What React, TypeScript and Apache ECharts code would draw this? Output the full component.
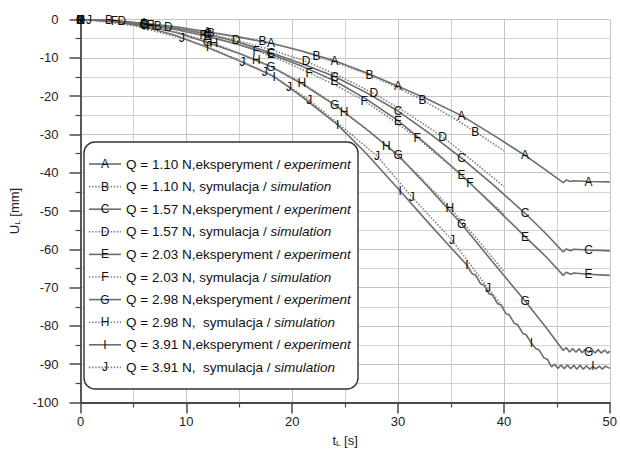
import React, { useEffect, useRef } from 'react';
import * as echarts from 'echarts';

const FONT = '"Liberation Sans", Arial, Helvetica, sans-serif';

// x: t_L [s], y: U_L [mm]
const xTicks = [0, 10, 20, 30, 40, 50];
const yTicks = [0, -10, -20, -30, -40, -50, -60, -70, -80, -90, -100];

const letters = ['A', 'B', 'C', 'D', 'E', 'F', 'G', 'H', 'I', 'J'];

const legendTexts = [
  'Q = 1.10 N,eksperyment / {i|experiment}',
  'Q = 1.10 N, symulacja / {i|simulation}',
  'Q = 1.57 N,eksperyment / {i|experiment}',
  'Q = 1.57 N, symulacja / {i|simulation}',
  'Q = 2.03 N,eksperyment / {i|experiment}',
  'Q = 2.03 N, symulacja / {i|simulation}',
  'Q = 2.98 N,eksperyment / {i|experiment}',
  'Q = 2.98 N,  symulacja / {i|simulation}',
  'Q = 3.91 N,eksperyment / {i|experiment}',
  'Q = 3.91 N,  symulacja / {i|simulation}',
];

const curveA = [[0,0],[3,-0.3],[6,-1.0],[9,-1.9],[12,-3.2],[15,-4.6],[18,-6.2],[21,-8.3],[24,-10.8],[27,-13.9],[30,-17.4],[33,-21.1],[36,-25.1],[39,-30.2],[42,-35.5],[44,-39.4],[45.6,-42.6],[45.9,-41.9],[46.3,-42.3],[46.6,-42.1],[48,-42.3],[50,-42.4]];
const markA = [0, 6, 12, 18, 24, 30, 36, 42, 48];

const curveB = [[0,0],[2.7,-0.25],[4.8,-0.8],[7.3,-1.7],[9.8,-2.5],[12.3,-3.5],[14.8,-4.5],[17.2,-5.6],[19.8,-7.4],[22.3,-9.5],[24.8,-11.9],[27.3,-14.5],[29.8,-17.6],[32.3,-21.0],[34.8,-25.0],[37.3,-29.3],[40,-34.3]];
const markB = [0, 2.7, 7.3, 12.3, 17.2, 22.3, 27.3, 32.3, 37.3];

const curveC = [[0,0],[3,-0.3],[6,-1.1],[9,-2.3],[12,-3.8],[15,-6.0],[18,-8.7],[21,-11.6],[24,-14.9],[27,-19.1],[30,-23.9],[33,-29.8],[36,-36.2],[39,-43.2],[42,-50.6],[44,-56.0],[45.6,-60.7],[45.9,-59.9],[46.3,-60.4],[46.6,-60.0],[48,-60.2],[50,-60.4]];
const markC = [0, 6, 12, 18, 24, 30, 36, 42, 48];

const curveD = [[0,0],[3.9,-0.5],[6,-1.2],[8.3,-2.0],[11.5,-3.5],[14.7,-5.4],[18,-7.9],[21.3,-10.9],[24.5,-14.8],[27.7,-19.3],[31,-24.7],[34.2,-30.6],[37,-36.8],[40,-43.6]];
const markD = [0, 3.9, 8.3, 14.7, 21.3, 27.7, 34.2];

const curveE = [[0,0],[3,-0.3],[6,-1.2],[9,-2.6],[12,-4.4],[15,-6.6],[18,-9.1],[21,-12.3],[24,-16.0],[27,-20.8],[30,-26.4],[33,-33.3],[36,-40.6],[39,-48.6],[42,-56.7],[44,-62.0],[45.6,-66.8],[45.9,-66.0],[46.3,-66.5],[46.6,-66.2],[48,-66.5],[50,-66.8]];
const markE = [0, 6, 12, 18, 24, 30, 36, 42, 48];

const curveF = [[0,0],[3.2,-0.4],[6.6,-1.5],[9.1,-2.6],[11.6,-4.1],[14.1,-5.9],[16.6,-8.1],[19.1,-10.8],[21.6,-13.9],[24.2,-17.3],[26.8,-21.2],[29.3,-25.9],[31.8,-30.9],[34.3,-36.7],[36.8,-42.8],[40,-50.8]];
const markF = [0, 3.2, 6.6, 11.6, 16.6, 21.6, 26.8, 31.8, 36.8];

const curveG = [[0,0],[3,-0.4],[6,-1.5],[9,-3.4],[12,-6.0],[15,-8.9],[18,-12.3],[21,-16.9],[24,-22.3],[27,-28.6],[30,-35.4],[33,-44.2],[36,-53.4],[39,-63.5],[42,-73.5],[44,-80.5],[45.6,-86.4],[45.9,-85.7],[46.2,-86.8],[46.5,-85.9],[46.8,-86.9],[47.1,-86.0],[47.4,-87.0],[47.7,-86.1],[48.0,-86.9],[48.3,-86.1],[48.6,-87.1],[48.9,-86.2],[49.2,-87.1],[49.5,-86.3],[49.8,-87.1],[50,-86.6]];
const markG = [0, 6, 12, 18, 24, 30, 36, 42, 48];

const curveH = [[0,0],[3.5,-0.6],[6.6,-1.8],[9.6,-3.6],[12.6,-6.2],[16.6,-10.6],[18.8,-13.4],[20.9,-16.5],[22.9,-20.1],[24.9,-24.1],[26.9,-28.4],[28.9,-32.9],[31.9,-40.6],[34.9,-49.2],[37.5,-57.4],[40,-65.8]];
const markH = [0, 6.6, 12.6, 16.6, 20.9, 24.9, 28.9, 34.9];

const curveI = [[0,0],[3,-0.5],[6,-1.8],[9,-4.2],[12,-7.3],[15,-10.8],[18.3,-14.9],[21,-20.3],[24.3,-27.5],[27,-35.0],[30.2,-44.8],[33,-53.5],[35,-59.6],[36.5,-64.1],[37.0,-66.4],[37.3,-66.7],[37.8,-69.0],[38.1,-69.3],[38.6,-71.6],[38.9,-71.9],[39.4,-74.2],[39.7,-74.5],[40.2,-76.8],[40.5,-77.1],[41.0,-79.4],[41.3,-79.7],[41.8,-82.0],[42.1,-82.3],[42.6,-84.5],[43.0,-85.9],[43.3,-86.2],[43.8,-88.4],[44.1,-88.7],[44.5,-90.7],[44.8,-90.0],[45.1,-91.1],[45.4,-90.2],[45.7,-91.2],[46.0,-90.2],[46.3,-91.2],[46.6,-90.3],[46.9,-91.3],[47.2,-90.3],[47.5,-91.3],[47.8,-90.4],[48.1,-91.3],[48.4,-90.6],[48.7,-91.2],[49.0,-90.5],[49.3,-91.3],[49.6,-90.5],[50,-91.1]];
const markI = [0, 6, 12, 18.3, 24.3, 30.2, 36.5, 42.6, 48.4];

const curveJ = [[0,0],[0.8,-0.1],[5,-1.6],[9.6,-4.9],[12.5,-7.7],[15.3,-11.0],[17.4,-13.6],[19.7,-17.5],[21.6,-21.0],[24.8,-28.2],[28.0,-35.6],[31.3,-46.3],[35.1,-57.6],[38.5,-70.2],[40,-75.3]];
const markJ = [0, 0.8, 9.6, 15.3, 17.4, 19.7, 21.6, 28.0, 31.3, 35.1, 38.5];

const curves = [curveA, curveB, curveC, curveD, curveE, curveF, curveG, curveH, curveI, curveJ];
const marks = [markA, markB, markC, markD, markE, markF, markG, markH, markI, markJ];

export default function App() {
  const ref = useRef<HTMLDivElement>(null);

  useEffect(() => {
    if (!ref.current) return;
    const chart = echarts.init(ref.current, null, { renderer: 'svg' });

    const isSim = (i: number) => i % 2 === 1;

    const lineSeries = curves.map((c, i) => ({
      type: 'line',
      data: c,
      symbol: 'none',
      showSymbol: false,
      silent: true,
      z: 3,
      lineStyle: {
        color: isSim(i) ? '#808080' : '#6c6c6c',
        width: 1.6,
        type: isSim(i) ? [1.5, 1.6] : 'solid',
      },
    }));

    const markSeries = curves.map((c, i) => ({
      type: 'scatter',
      data: c.filter((p) => marks[i].indexOf(p[0]) >= 0),
      symbol: 'rect',
      symbolSize: 0,
      silent: true,
      z: 4,
      itemStyle: { color: '#111111', opacity: 1 },
      label: {
        show: true,
        position: [0, 0],
        align: 'center',
        verticalAlign: 'middle',
        formatter: letters[i],
        color: '#111111',
        textBorderWidth: 0,
        textBorderColor: 'transparent',
        fontSize: 12,
        fontFamily: FONT,
      },
    }));

    const legendX = 84;
    const legendY = 142;
    const rowY0 = 164;
    const rowStep = 22.6;
    const legendGraphics: any[] = [
      {
        type: 'rect',
        shape: { x: legendX, y: legendY, width: 274, height: 247, r: 11 },
        style: { fill: '#ffffff', stroke: '#333333', lineWidth: 1.4 },
        z: 10,
      },
    ];
    legendTexts.forEach((txt, i) => {
      const y = rowY0 + i * rowStep;
      legendGraphics.push({
        type: 'line',
        shape: { x1: 89, y1: y, x2: 121, y2: y },
        style: {
          stroke: isSim(i) ? '#808080' : '#6c6c6c',
          lineWidth: 1.6,
          lineDash: isSim(i) ? [1.5, 1.6] : null,
        },
        z: 11,
      });
      legendGraphics.push({
        type: 'text',
        x: 105,
        y: y,
        style: {
          text: letters[i],
          fill: '#111',
          fontSize: 12,
          fontFamily: FONT,
          align: 'center',
          verticalAlign: 'middle',
        },
        z: 12,
      });
      legendGraphics.push({
        type: 'text',
        x: 126,
        y: y,
        style: {
          text: txt,
          fill: '#111',
          fontSize: 13.5,
          fontFamily: FONT,
          align: 'left',
          verticalAlign: 'middle',
          rich: {
            i: { fontSize: 13.5, fontFamily: FONT, fontStyle: 'italic', fill: '#111' },
          },
        },
        z: 12,
      });
    });

    const axisCommon = {
      axisLine: { show: true, onZero: false, lineStyle: { color: '#4a4a4a', width: 1.8 } },
      axisTick: { show: true, length: 11, lineStyle: { color: '#4a4a4a', width: 1.5 } },
      minorTick: { show: true, splitNumber: 2, length: 5, lineStyle: { color: '#4a4a4a', width: 1.2 } },
      splitLine: { show: true, lineStyle: { color: '#c4c4c4', width: 1 } },
      minorSplitLine: { show: true, lineStyle: { color: '#d2d2d2', width: 1 } },
    };

    chart.setOption({
      animation: false,
      backgroundColor: '#ffffff',
      grid: { left: 80, right: 8, top: 19.5, bottom: 53.5, containLabel: false },
      xAxis: {
        type: 'value',
        min: xTicks[0],
        max: xTicks[xTicks.length - 1],
        interval: 10,
        ...axisCommon,
        axisLabel: { fontSize: 13, color: '#222', fontFamily: FONT, margin: 12 },
        name: 't{s|L} [s]',
        nameLocation: 'middle',
        nameGap: 31,
        nameTextStyle: {
          fontSize: 13,
          color: '#222',
          fontFamily: FONT,
          rich: { s: { fontSize: 8, fontFamily: FONT, color: '#222', verticalAlign: 'bottom', padding: [6, 0, 0, 0] } },
        },
      },
      yAxis: {
        type: 'value',
        min: yTicks[yTicks.length - 1],
        max: yTicks[0],
        interval: 10,
        ...axisCommon,
        axisLabel: { fontSize: 13, color: '#222', fontFamily: FONT, margin: 22 },
        name: 'U{s|L} [mm]',
        nameLocation: 'middle',
        nameRotate: 90,
        nameGap: 59,
        nameTextStyle: {
          fontSize: 13,
          color: '#222',
          fontFamily: FONT,
          rich: { s: { fontSize: 8, fontFamily: FONT, color: '#222', verticalAlign: 'bottom', padding: [6, 0, 0, 0] } },
        },
      },
      series: [...lineSeries, ...markSeries],
      graphic: legendGraphics,
    });

    return () => chart.dispose();
  }, []);

  return (
    <div
      ref={ref}
      style={{ position: 'absolute', left: 0, top: 0, width: 620, height: 456 }}
    />
  );
}
